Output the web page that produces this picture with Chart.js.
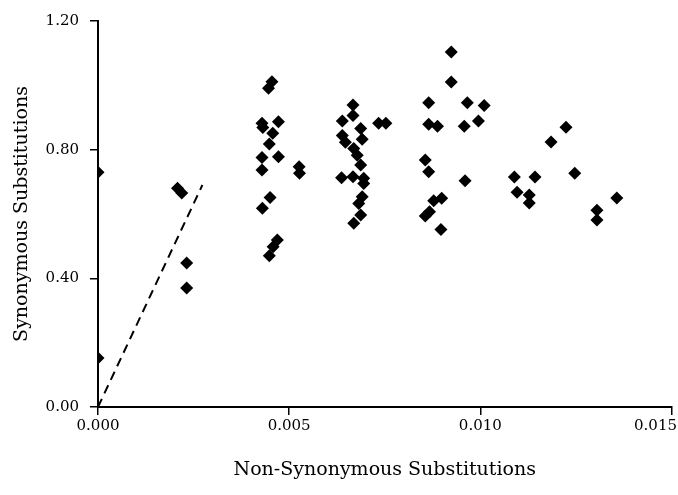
<!DOCTYPE html>
<html>
<head>
<meta charset="utf-8">
<script src="https://cdn.jsdelivr.net/npm/chart.js@4/dist/chart.umd.min.js"></script>
<style>
  html, body { margin: 0; padding: 0; background: #fff; }
  #wrap { width: 678px; height: 495px; position: relative; }
</style>
</head>
<body>
<div id="wrap"><canvas id="chart"></canvas></div>
<script>
// non-synonymous (x) vs synonymous (y) substitutions
const nonSyn = [
  0.0000, 0.0000,
  0.00208, 0.00219, 0.00232, 0.00232,
  0.00455, 0.00446, 0.00429, 0.00431, 0.00472, 0.00457, 0.00448, 0.00429, 0.00472, 0.00429,
  0.00526, 0.00527, 0.00450, 0.00430, 0.00469, 0.00458, 0.00448,
  0.00667, 0.00667, 0.00639, 0.00734, 0.00753, 0.00687, 0.00639, 0.00647, 0.00691, 0.00669,
  0.00678, 0.00687, 0.00637, 0.00667, 0.00695, 0.00695, 0.00691, 0.00682, 0.00687, 0.00669,
  0.00924, 0.00924, 0.00865, 0.00966, 0.01010, 0.00865, 0.00888, 0.00958, 0.00995,
  0.00856, 0.00865, 0.00960, 0.00899, 0.00878, 0.00867, 0.00856, 0.00897,
  0.01224, 0.01185, 0.01089, 0.01143, 0.01247, 0.01096, 0.01128, 0.01128,
  0.01357, 0.01305, 0.01305
];
const syn = [
  0.730, 0.152,
  0.680, 0.665, 0.448, 0.370,
  1.011, 0.991, 0.882, 0.869, 0.887, 0.851, 0.818, 0.776, 0.778, 0.737,
  0.747, 0.727, 0.651, 0.618, 0.519, 0.498, 0.470,
  0.939, 0.906, 0.889, 0.882, 0.882, 0.866, 0.844, 0.823, 0.832, 0.804,
  0.783, 0.752, 0.713, 0.716, 0.711, 0.695, 0.654, 0.633, 0.597, 0.571,
  1.104, 1.010, 0.946, 0.946, 0.937, 0.879, 0.873, 0.873, 0.889,
  0.768, 0.731, 0.703, 0.649, 0.641, 0.607, 0.594, 0.552,
  0.870, 0.824, 0.715, 0.715, 0.727, 0.668, 0.659, 0.634,
  0.650, 0.612, 0.581
];
// dashed reference line
const refX = [0, 0.00273];
const refY = [0, 0.69];

const xTicks = [0, 0.005, 0.010, 0.015];
const xTickLabels = ['0.000', '0.005', '0.010', '0.015'];
const yTickLabels = ['0.00', '0.40', '0.80', '1.20'];

const FONT = '"DejaVu Serif", "Liberation Serif", serif';

// x tick labels drawn by hand so the last one stays inside the canvas
const xLabelPlugin = {
  id: 'xLabels',
  afterDraw(chart) {
    const ctx = chart.ctx;
    const sx = chart.scales.x;
    ctx.save();
    ctx.font = '15px ' + FONT;
    ctx.fillStyle = '#000';
    ctx.textBaseline = 'top';
    ctx.textAlign = 'center';
    xTicks.forEach((v, i) => {
      const txt = xTickLabels[i];
      const w = ctx.measureText(txt).width;
      let px = sx.getPixelForValue(v);
      px = Math.min(px, chart.width - w / 2 - 1);
      ctx.fillText(txt, px, sx.top + 12);
    });
    ctx.restore();
  }
};

new Chart(document.getElementById('chart'), {
  type: 'scatter',
  data: {
    datasets: [
      {
        data: nonSyn.map((x, i) => ({ x: x, y: syn[i] })),
        pointStyle: 'rectRot',
        pointRadius: 6.5,
        pointHoverRadius: 6.5,
        backgroundColor: '#000',
        borderColor: '#000',
        borderWidth: 0
      },
      {
        type: 'line',
        data: refX.map((x, i) => ({ x: x, y: refY[i] })),
        borderColor: '#000',
        borderWidth: 2,
        borderDash: [9, 6],
        pointRadius: 0,
        fill: false
      }
    ]
  },
  options: {
    responsive: true,
    maintainAspectRatio: false,
    animation: false,
    layout: { padding: { top: 21, right: 4, bottom: 0, left: 0 } },
    plugins: { legend: { display: false }, tooltip: { enabled: false } },
    scales: {
      x: {
        type: 'linear',
        min: 0,
        max: 0.015,
        afterBuildTicks(s) { s.ticks = xTicks.map(v => ({ value: v })); },
        afterFit(s) { s.height = 88; s.paddingLeft = 0; s.paddingRight = 0; },
        ticks: { display: false },
        grid: { drawOnChartArea: false, drawTicks: true, tickLength: 8, color: '#000', lineWidth: 1.5 },
        border: { display: true, color: '#000', width: 2 },
        title: {
          display: true,
          text: 'Non-Synonymous Substitutions',
          color: '#000',
          font: { family: FONT, size: 19 },
          padding: { top: 0, bottom: 14 }
        }
      },
      y: {
        min: 0,
        max: 1.2,
        afterBuildTicks(s) { s.ticks = yTickLabels.map(t => ({ value: parseFloat(t) })); },
        afterFit(s) { s.width = 98; s.paddingTop = 0; s.paddingBottom = 0; },
        ticks: {
          color: '#000',
          padding: 11,
          font: { family: FONT, size: 15 },
          callback: (v) => v.toFixed(2)
        },
        grid: { drawOnChartArea: false, drawTicks: true, tickLength: 8, color: '#000', lineWidth: 1.5 },
        border: { display: true, color: '#000', width: 2 },
        title: {
          display: true,
          text: 'Synonymous Substitutions',
          color: '#000',
          font: { family: FONT, size: 19 },
          padding: { top: 11, bottom: 0 }
        }
      }
    }
  },
  plugins: [xLabelPlugin]
});
</script>
</body>
</html>
